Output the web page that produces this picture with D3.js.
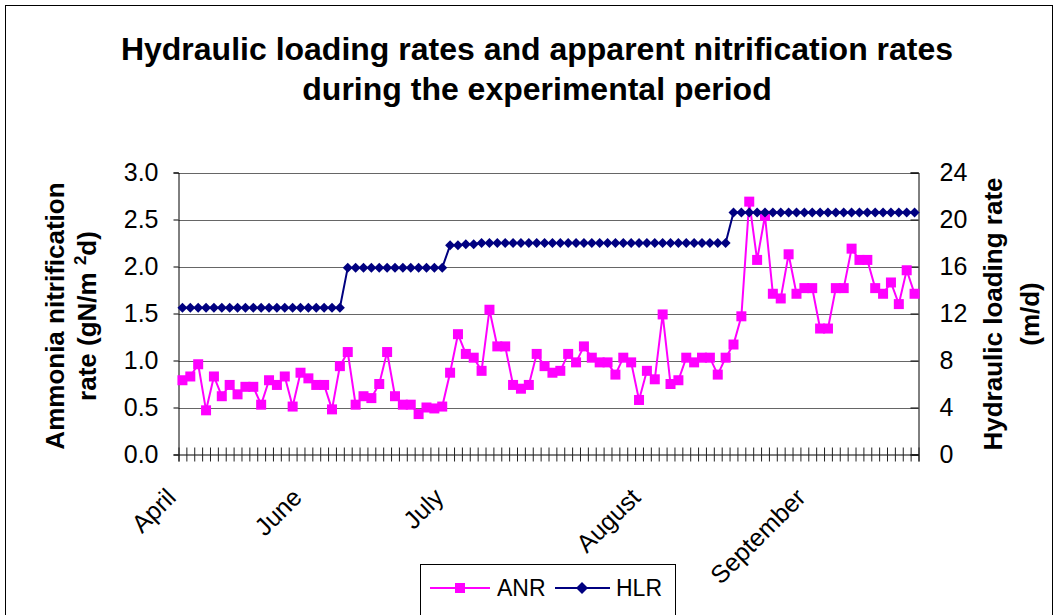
<!DOCTYPE html>
<html>
<head>
<meta charset="utf-8">
<script src="https://cdn.jsdelivr.net/npm/d3@7"></script>
<style>
body{margin:0;background:#fff;}
svg{display:block;font-family:"Liberation Sans",Arial,sans-serif;}
</style>
</head>
<body>
<svg width="1062" height="615"></svg>
<script>
// ANR, gN/m2d (left axis)
var anr = [0.79,0.83,0.96,0.47,0.83,0.62,0.74,0.64,0.72,0.72,
           0.53,0.79,0.74,0.83,0.51,0.87,0.81,0.74,0.74,0.48,
           0.94,1.09,0.53,0.62,0.60,0.75,1.09,0.62,0.53,0.53,
           0.43,0.50,0.49,0.51,0.87,1.28,1.07,1.03,0.89,1.54,
           1.15,1.15,0.74,0.70,0.74,1.07,0.94,0.87,0.89,1.07,
           0.98,1.15,1.03,0.98,0.98,0.85,1.03,0.98,0.58,0.89,
           0.80,1.49,0.75,0.79,1.03,0.98,1.03,1.03,0.85,1.03,
           1.17,1.47,2.69,2.07,2.54,1.71,1.66,2.13,1.71,1.77,
           1.77,1.34,1.34,1.77,1.77,2.19,2.07,2.07,1.77,1.71,
           1.83,1.60,1.96,1.71];
// HLR, m/d (right axis)
var hlr = [12.5,12.5,12.5,12.5,12.5,12.5,12.5,12.5,12.5,12.5,
           12.5,12.5,12.5,12.5,12.5,12.5,12.5,12.5,12.5,12.5,
           12.5,15.9,15.9,15.9,15.9,15.9,15.9,15.9,15.9,15.9,
           15.9,15.9,15.9,15.9,17.8,17.8,17.9,17.9,18.0,18.0,
           18.0,18.0,18.0,18.0,18.0,18.0,18.0,18.0,18.0,18.0,
           18.0,18.0,18.0,18.0,18.0,18.0,18.0,18.0,18.0,18.0,
           18.0,18.0,18.0,18.0,18.0,18.0,18.0,18.0,18.0,18.0,
           20.6,20.6,20.6,20.6,20.6,20.6,20.6,20.6,20.6,20.6,
           20.6,20.6,20.6,20.6,20.6,20.6,20.6,20.6,20.6,20.6,
           20.6,20.6,20.6,20.6];
var monthNames = ['April','June','July','August','September'];
var monthIndex = [0,16,34,59,80];
var leftTicks = [0,0.5,1,1.5,2,2.5,3];
var rightTicks = [0,4,8,12,16,20,24];
var titleLines = ['Hydraulic loading rates and apparent nitrification rates','during the experimental period'];

var N = anr.length;
var plotL = 178.5, plotR = 918.5, plotT = 172.5, plotB = 454.5;
var svg = d3.select('svg');

// outer frame
svg.append('rect').attr('x',5.5).attr('y',5.5).attr('width',1047).attr('height',640)
   .attr('fill','none').attr('stroke','#000').attr('stroke-width',1);

var x = d3.scaleLinear().domain([0, N]).range([plotL, plotR]);
var yL = d3.scaleLinear().domain([0, 3]).range([plotB, plotT]);
var yR = d3.scaleLinear().domain([0, 24]).range([plotB, plotT]);

// title
svg.append('g').selectAll('text').data(titleLines).enter().append('text')
   .attr('x',537).attr('y',(d,i)=>60+i*40)
   .attr('text-anchor','middle').attr('font-weight','bold').attr('font-size',32)
   .text(d=>d);

// gridlines
svg.append('g').selectAll('line').data(leftTicks.slice(1)).enter().append('line')
   .attr('x1',plotL).attr('x2',plotR)
   .attr('y1',d=>Math.round(yL(d))+0.5).attr('y2',d=>Math.round(yL(d))+0.5)
   .attr('stroke','#666').attr('stroke-width',1);

// left axis
var gl = svg.append('g').attr('transform','translate('+plotL+',0)')
   .call(d3.axisLeft(yL).tickValues(leftTicks).tickSize(5).tickFormat(d3.format('.1f')));
gl.select('.domain').attr('stroke','#000');
gl.selectAll('text').attr('font-size',25).attr('font-family','Liberation Sans, Arial').attr('x',-20).attr('fill','#000');

// right axis
var gr = svg.append('g').attr('transform','translate('+plotR+',0)')
   .call(d3.axisRight(yR).tickValues(rightTicks).tickSize(-8).tickFormat(d3.format('d')));
gr.selectAll('text').attr('font-size',25).attr('font-family','Liberation Sans, Arial').attr('x',21).attr('fill','#000');

// bottom axis, cross ticks at category edges
var gb = svg.append('g').attr('transform','translate(0,'+plotB+')')
   .call(d3.axisBottom(x).tickValues(d3.range(0, N+1)).tickSize(7).tickFormat(''));
gb.selectAll('.tick line').attr('y1',-7).attr('stroke','#222');
gb.select('.domain').attr('stroke','#000');

// month labels
svg.append('g').selectAll('text').data(monthNames).enter().append('text')
   .attr('transform',(d,i)=>'translate('+(x(monthIndex[i]+0.5)-5)+',499) rotate(-45)')
   .attr('text-anchor','end').attr('font-size',25).text(d=>d);

// axis titles
var at = svg.append('g').attr('font-weight','bold').attr('font-size',26).attr('text-anchor','middle');
at.append('text').attr('transform','translate(64,316) rotate(-90)').text('Ammonia nitrification');
var t2 = at.append('text').attr('transform','translate(96,316) rotate(-90)');
t2.append('tspan').text('rate (gN/m ');
t2.append('tspan').attr('font-size',17).attr('dy',-10).text('2');
t2.append('tspan').attr('dy',10).text('d)');
at.append('text').attr('transform','translate(1002,314) rotate(-90)').text('Hydraulic loading rate');
at.append('text').attr('transform','translate(1039,314) rotate(-90)').text('(m/d)');

// ANR series
var lineL = d3.line().x((d,i)=>x(i+0.5)).y(d=>yL(d));
svg.append('path').datum(anr).attr('d',lineL).attr('fill','none')
   .attr('stroke','#ff00ff').attr('stroke-width',2);
svg.append('g').selectAll('rect').data(anr).enter().append('rect')
   .attr('x',(d,i)=>x(i+0.5)-5).attr('y',d=>yL(d)-5)
   .attr('width',10).attr('height',10).attr('fill','#ff00ff');

// HLR series
var lineR = d3.line().x((d,i)=>x(i+0.5)).y(d=>yR(d));
svg.append('path').datum(hlr).attr('d',lineR).attr('fill','none')
   .attr('stroke','#000080').attr('stroke-width',2);
svg.append('g').selectAll('path').data(hlr).enter().append('path')
   .attr('transform',(d,i)=>'translate('+x(i+0.5)+','+yR(d)+')')
   .attr('d','M0,-5L5,0L0,5L-5,0Z').attr('fill','#000080');

// legend
var lg = svg.append('g');
lg.append('rect').attr('x',420.5).attr('y',564.5).attr('width',255).attr('height',70)
  .attr('fill','#fff').attr('stroke','#000');
lg.append('line').attr('x1',430).attr('x2',490).attr('y1',588).attr('y2',588)
  .attr('stroke','#ff00ff').attr('stroke-width',2);
lg.append('rect').attr('x',455).attr('y',583).attr('width',10).attr('height',10).attr('fill','#ff00ff');
lg.append('text').attr('x',497).attr('y',596).attr('font-size',23).text('ANR');
lg.append('line').attr('x1',555).attr('x2',610).attr('y1',588).attr('y2',588)
  .attr('stroke','#000080').attr('stroke-width',2);
lg.append('path').attr('transform','translate(582,588)').attr('d','M0,-6L6,0L0,6L-6,0Z').attr('fill','#000080');
lg.append('text').attr('x',616).attr('y',596).attr('font-size',23).text('HLR');
</script>
</body>
</html>
